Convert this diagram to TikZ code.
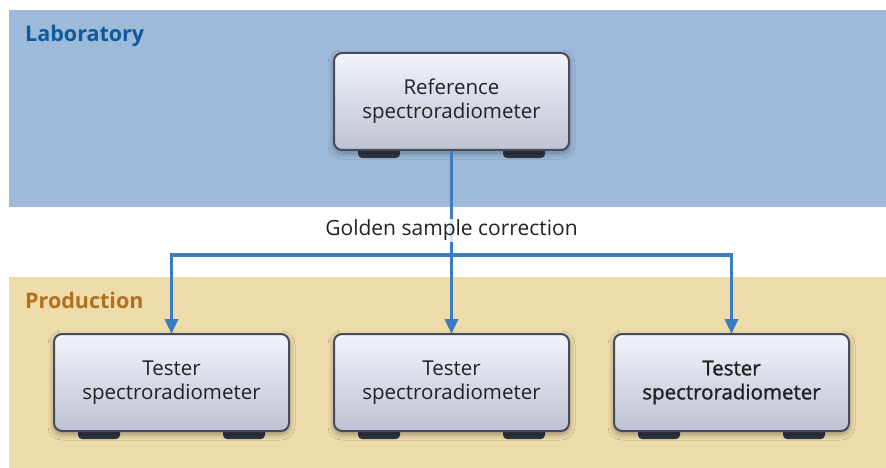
\documentclass[tikz,border=0pt]{standalone}
\usepackage{fontspec}
\setmainfont{Open Sans}
\newfontfamily\semib[FakeBold=1.3]{Open Sans}
\usetikzlibrary{arrows.meta,shadows.blur}
\definecolor{labband}{HTML}{9DBADA}
\definecolor{prodband}{HTML}{EEDBAA}
\definecolor{labtext}{HTML}{0F5A9B}
\definecolor{prodtext}{HTML}{B36F1E}
\definecolor{conncol}{HTML}{3B7CC0}
\definecolor{boxtop}{HTML}{F2F4FB}
\definecolor{boxbot}{HTML}{BEC2D2}
\definecolor{boxline}{HTML}{464C5B}
\definecolor{footcol}{HTML}{2F3543}
\definecolor{txt}{HTML}{222222}
\tikzset{
  devbox/.style={draw=boxline, line width=2pt, rounded corners=8pt,
    top color=boxtop, bottom color=boxbot, minimum width=235pt, minimum height=97pt,
    align=center, font=\fontsize{20.5}{24}\selectfont, text=txt,
    blur shadow={shadow xshift=0pt, shadow yshift=-3pt, shadow blur radius=6pt, shadow opacity=35, shadow blur steps=12}},
  foot/.style={fill=footcol, rounded corners=4pt},
  conn/.style={draw=conncol, line width=3.5pt},
  arr/.style={conn, -{Triangle[width=13pt,length=15pt]}, shorten >=-1pt},
  bandlabel/.style={font=\fontsize{21.5}{25}\selectfont\bfseries, anchor=base west, inner sep=0pt}
}
\begin{document}
\begin{tikzpicture}[x=1pt,y=-1pt]
\useasboundingbox (0,0) rectangle (886,468);
\fill[labband] (9,10) rectangle (886,207);
\fill[prodband] (9,277) rectangle (886,468);
\node[bandlabel, text=labtext] (lab) at (25,42) {Laboratory};
\node[bandlabel, text=prodtext] (prod) at (25,308) {Production};
\coordinate (h) at (451.5,255);
% feet
\foreach \cx/\cy in {451.5/101.5, 171.5/382.5, 451.5/382.5, 731.5/382.5}{
  \fill[foot] (\cx-93.5,\cy+40) rectangle (\cx-51.5,\cy+56.5);
  \fill[foot] (\cx+51.5,\cy+40) rectangle (\cx+93.5,\cy+56.5);
}
\node[devbox] (ref) at (451.5,101.5) {Reference\\spectroradiometer};
\node[devbox] (t1) at (171.5,382.5) {Tester\\spectroradiometer};
\node[devbox] (t2) at (451.5,382.5) {Tester\\spectroradiometer};
\node[devbox, font=\fontsize{20.5}{24}\semib] (t3) at (731.5,382.5) {Tester\\spectroradiometer};
\draw[arr] (ref.south) -- (t2.north);
\draw[arr] (h) -| (t1.north);
\draw[arr] (h) -| (t3.north);
\node[fill=white, fill opacity=0.8, text opacity=1, text=txt, inner sep=1pt,
  font=\fontsize{21}{25}\selectfont] (gold) at (451.5,230) {Golden sample correction};
\end{tikzpicture}
\end{document}
